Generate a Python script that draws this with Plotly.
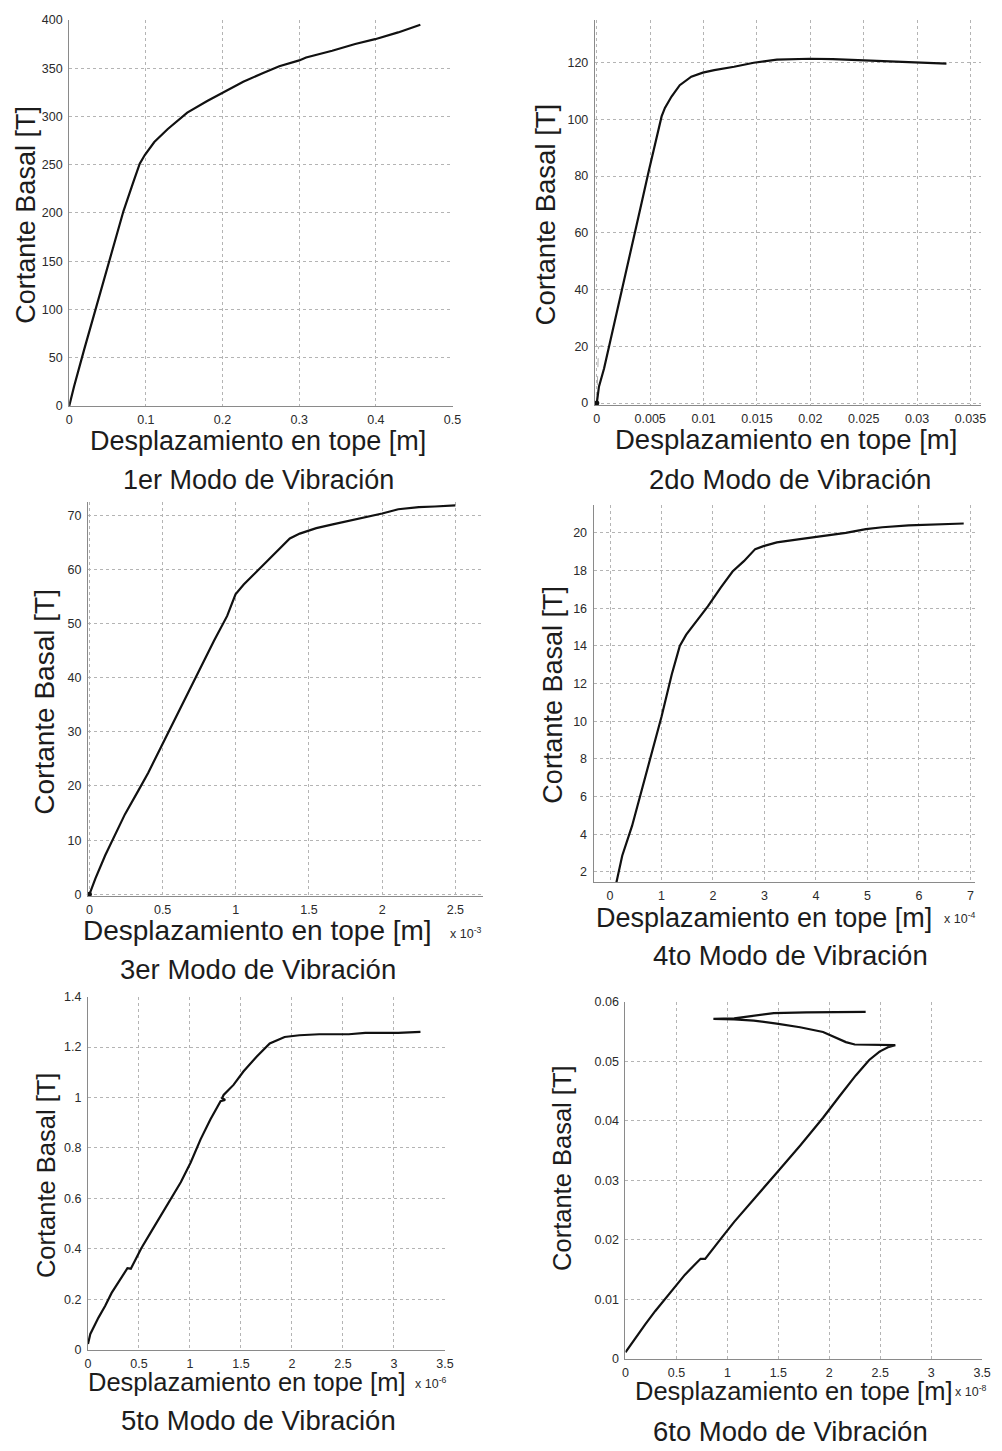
import plotly.graph_objects as go

W, H = 1002, 1451
FONT = "Liberation Sans, Arial, Helvetica, sans-serif"
TXT = "#1c1c1c"

# ---- 1er modo ----
m1_x = [0, 0.0064, 0.0193, 0.034, 0.043, 0.0557, 0.0708, 0.0836, 0.092, 0.0986, 0.111, 0.1286,
        0.154, 0.18, 0.1995, 0.227, 0.253, 0.274, 0.300, 0.309, 0.343, 0.373, 0.399, 0.429, 0.458]
m1_y = [0, 20.5, 58, 99, 123, 161, 202, 232, 251, 260, 273.5, 287,
        304, 316, 324, 336, 345, 352, 358, 361, 368, 375, 380, 387, 395]
m1_xticks = [0, 0.1, 0.2, 0.3, 0.4, 0.5]
m1_xtext = ["0", "0.1", "0.2", "0.3", "0.4", "0.5"]
m1_yticks = [0, 50, 100, 150, 200, 250, 300, 350, 400]
m1_ytext = ["0", "50", "100", "150", "200", "250", "300", "350", "400"]

# ---- 2do modo ----
m2_x = [0, 0.0002, 0.00068, 0.00114, 0.0016, 0.00207, 0.00237, 0.003, 0.0036, 0.00422, 0.00484,
        0.00546, 0.00607, 0.00638, 0.007, 0.00777, 0.00885, 0.00993, 0.011, 0.01286, 0.0147,
        0.01687, 0.01995, 0.0221, 0.02458, 0.02766, 0.0301, 0.03275]
m2_y = [0, 5.8, 12.2, 19.7, 27.9, 34.9, 40.7, 50, 60.4, 70.9, 81.3,
        91.8, 101, 104, 108, 112, 115, 116.4, 117.3, 118.5, 119.9,
        121, 121.3, 121.2, 120.8, 120.2, 119.9, 119.6]
m2_aux_x = [0, 0.00016, 0.00053]
m2_aux_y = [0, 19.8, 20.3]
m2_xticks = [0, 0.005, 0.01, 0.015, 0.02, 0.025, 0.03, 0.035]
m2_xtext = ["0", "0.005", "0.01", "0.015", "0.02", "0.025", "0.03", "0.035"]
m2_yticks = [0, 20, 40, 60, 80, 100, 120]
m2_ytext = ["0", "20", "40", "60", "80", "100", "120"]

# ---- 3er modo (desplazamiento x 1e-3) ----
m3_x = [0, 0.0405, 0.108, 0.176, 0.243, 0.333, 0.401, 0.491, 0.581, 0.671, 0.761, 0.851, 0.941,
        0.998, 1.054, 1.122, 1.212, 1.302, 1.369, 1.437, 1.55, 1.662, 1.797, 1.887, 2.0, 2.11,
        2.25, 2.36, 2.5]
m3_y = [0, 2.9, 7.2, 10.9, 14.8, 19.1, 22.4, 27.3, 32.2, 37.1, 42, 46.8, 51.4,
        55.4, 57.2, 59, 61.5, 63.9, 65.7, 66.6, 67.6, 68.3, 69.1, 69.7, 70.3, 71.1,
        71.5, 71.6, 71.8]
m3_xticks = [0, 0.5, 1, 1.5, 2, 2.5]
m3_xtext = ["0", "0.5", "1", "1.5", "2", "2.5"]
m3_yticks = [0, 10, 20, 30, 40, 50, 60, 70]
m3_ytext = ["0", "10", "20", "30", "40", "50", "60", "70"]

# ---- 4to modo (desplazamiento x 1e-4) ----
m4_x = [0.105, 0.237, 0.428, 0.62, 0.81, 1.0, 1.2, 1.355, 1.48, 1.71, 1.9, 2.15, 2.38, 2.6,
        2.82, 2.98, 3.24, 3.69, 4.07, 4.58, 4.97, 5.29, 5.8, 6.31, 6.87]
m4_y = [1.2, 2.86, 4.44, 6.38, 8.3, 10.24, 12.5, 14.0, 14.6, 15.4, 16.1, 17.1, 17.95, 18.5,
        19.14, 19.3, 19.5, 19.67, 19.8, 20.0, 20.2, 20.3, 20.4, 20.46, 20.5]
m4_xticks = [0, 1, 2, 3, 4, 5, 6, 7]
m4_xtext = ["0", "1", "2", "3", "4", "5", "6", "7"]
m4_yticks = [2, 4, 6, 8, 10, 12, 14, 16, 18, 20]
m4_ytext = ["2", "4", "6", "8", "10", "12", "14", "16", "18", "20"]

# ---- 5to modo (desplazamiento x 1e-6) ----
m5_x = [0, 0.023, 0.103, 0.168, 0.232, 0.313, 0.387, 0.42, 0.459, 0.523, 0.62, 0.717, 0.814,
        0.91, 1.007, 1.104, 1.2, 1.30, 1.345, 1.315, 1.33, 1.427, 1.524, 1.653, 1.782, 1.847,
        1.928, 2.073, 2.267, 2.557, 2.719, 3.042, 3.26]
m5_y = [0.022, 0.062, 0.127, 0.173, 0.225, 0.278, 0.323, 0.321, 0.35, 0.402, 0.468, 0.533, 0.598,
        0.664, 0.742, 0.834, 0.913, 0.985, 0.99, 0.998, 1.01, 1.05, 1.103, 1.162, 1.214, 1.227,
        1.24, 1.247, 1.251, 1.251, 1.256, 1.256, 1.26]
m5_xticks = [0, 0.5, 1, 1.5, 2, 2.5, 3, 3.5]
m5_xtext = ["0", "0.5", "1", "1.5", "2", "2.5", "3", "3.5"]
m5_yticks = [0, 0.2, 0.4, 0.6, 0.8, 1.0, 1.2, 1.4]
m5_ytext = ["0", "0.2", "0.4", "0.6", "0.8", "1", "1.2", "1.4"]

# ---- 6to modo (desplazamiento x 1e-8) ----
m6_x = [0, 0.032, 0.097, 0.194, 0.291, 0.388, 0.485, 0.582, 0.679, 0.737, 0.782, 0.84, 0.937,
        1.067, 1.26, 1.487, 1.713, 1.939, 2.1, 2.26, 2.392, 2.493, 2.586, 2.648, 2.25, 2.163,
        1.939, 1.713, 1.484, 1.26, 1.067, 0.863, 1.067, 1.455, 1.775, 2.357]
m6_y = [0.0011, 0.0019, 0.0036, 0.0058, 0.008, 0.01, 0.0122, 0.0141, 0.0158, 0.0168, 0.0168, 0.018,
        0.0202, 0.023, 0.0269, 0.0313, 0.0358, 0.0405, 0.0441, 0.0476, 0.0502, 0.0516, 0.0524,
        0.0527, 0.0528, 0.0532, 0.0549, 0.0557, 0.0563, 0.0568, 0.057, 0.0571, 0.0572, 0.05805,
        0.0582, 0.05827]
m6_xticks = [0, 0.5, 1, 1.5, 2, 2.5, 3, 3.5]
m6_xtext = ["0", "0.5", "1", "1.5", "2", "2.5", "3", "3.5"]
m6_yticks = [0, 0.01, 0.02, 0.03, 0.04, 0.05, 0.06]
m6_ytext = ["0", "0.01", "0.02", "0.03", "0.04", "0.05", "0.06"]

modos = ["1er Modo de Vibración", "2do Modo de Vibración", "3er Modo de Vibración",
         "4to Modo de Vibración", "5to Modo de Vibración", "6to Modo de Vibración"]
xlabel = "Desplazamiento en tope [m]"
ylabel = "Cortante Basal [T]"

# plot-area boxes in pixels (left, right, top, bottom), axis ranges and label anchors
panels = [
    dict(x=m1_x, y=m1_y, xt=(m1_xticks, m1_xtext), yt=(m1_yticks, m1_ytext),
         box=(67, 455, 13, 403), xr=[0, 0.5], yr=[0, 400],
         ytitle=(23, 210, 27), xtitle=(258, 438, 27), sub=(259, 478, 27), exp=None),
    dict(x=m2_x, y=m2_y, xt=(m2_xticks, m2_xtext), yt=(m2_yticks, m2_ytext),
         box=(599, 990, 13, 401.7), xr=[-0.000185, 0.036], yr=[-0.6, 135],
         ytitle=(550, 209, 27.5), xtitle=(792, 437, 27.5), sub=(797, 477, 27.5), exp=None),
    dict(x=m3_x, y=m3_y, xt=(m3_xticks, m3_xtext), yt=(m3_yticks, m3_ytext),
         box=(86, 486, 500, 897.3), xr=[-0.01, 2.69], yr=[-0.25, 72.4],
         ytitle=(42, 701, 28), xtitle=(258, 933, 28), sub=(258, 972, 27.5),
         exp=(450, 935, "-3")),
    dict(x=m4_x, y=m4_y, xt=(m4_xticks, m4_xtext), yt=(m4_yticks, m4_ytext),
         box=(597.7, 983.3, 502.7, 884), xr=[-0.32, 7.08], yr=[1.44, 21.49],
         ytitle=(557, 694, 27), xtitle=(770, 920, 27), sub=(797, 958, 27.5),
         exp=(950, 920, "-4")),
    dict(x=m5_x, y=m5_y, xt=(m5_xticks, m5_xtext), yt=(m5_yticks, m5_ytext),
         box=(86, 447.3, 999.3, 1355.7), xr=[0, 3.5], yr=[0, 1.4],
         ytitle=(43, 1179, 25.5), xtitle=(247, 1388, 25.5), sub=(259, 1427, 27.5),
         exp=(415, 1389, "-6")),
    dict(x=m6_x, y=m6_y, xt=(m6_xticks, m6_xtext), yt=(m6_yticks, m6_ytext),
         box=(630, 991, 1004.3, 1365), xr=[0, 3.5], yr=[0, 0.06],
         ytitle=(565, 1172, 25.5), xtitle=(801, 1397, 25.5), sub=(797, 1438, 27.5),
         exp=(962, 1397, "-8")),
]


def px(v):
    return v / W


def py(v):
    return 1 - v / H


fig = go.Figure()
annotations = []
layout = {}

for i, p in enumerate(panels, start=1):
    sx = "" if i == 1 else str(i)
    l, r, t, b = p["box"]
    axis_common = dict(
        showline=True, linecolor="#8a8a8a", linewidth=1,
        showgrid=True, gridcolor="#b4b4b4", griddash="dot", gridwidth=1,
        zeroline=False, ticks="", mirror=False,
        tickfont=dict(family=FONT, size=12.5, color="#2a2a2a"),
        tickmode="array", fixedrange=True,
    )
    layout["xaxis" + sx] = dict(
        axis_common, domain=[px(l), px(r)], range=p["xr"], anchor="y" + sx,
        tickvals=p["xt"][0], ticktext=p["xt"][1], ticklabelstandoff=2,
    )
    layout["yaxis" + sx] = dict(
        axis_common, domain=[py(b), py(t)], range=p["yr"], anchor="x" + sx,
        tickvals=p["yt"][0], ticktext=p["yt"][1], ticklabelstandoff=3,
    )

    if i == 2:
        # faint dashed reference near the origin
        fig.add_trace(go.Scatter(
            x=m2_aux_x, y=m2_aux_y, mode="lines", xaxis="x2", yaxis="y2",
            line=dict(color="#b0b0b0", width=1, dash="dash"), showlegend=False,
            hoverinfo="skip"))

    fig.add_trace(go.Scatter(
        x=p["x"], y=p["y"], mode="lines", xaxis="x" + sx, yaxis="y" + sx,
        line=dict(color="#111111", width=2.2), showlegend=False))

    if i in (2, 3):
        fig.add_trace(go.Scatter(
            x=[p["x"][0]], y=[p["y"][0]], mode="markers", xaxis="x" + sx, yaxis="y" + sx,
            marker=dict(color="#111111", size=5), showlegend=False, cliponaxis=False))

    yx, yy, yfs = p["ytitle"]
    annotations.append(dict(
        text=ylabel, x=px(yx), y=py(yy), xref="paper", yref="paper",
        xanchor="center", yanchor="middle", textangle=-90, showarrow=False,
        font=dict(family=FONT, size=yfs, color=TXT)))
    xx, xy, xfs = p["xtitle"]
    annotations.append(dict(
        text=xlabel, x=px(xx), y=py(xy), xref="paper", yref="paper",
        xanchor="center", yanchor="middle", showarrow=False,
        font=dict(family=FONT, size=xfs, color=TXT)))
    sxp, syp, sfs = p["sub"]
    annotations.append(dict(
        text=modos[i - 1], x=px(sxp), y=py(syp), xref="paper", yref="paper",
        xanchor="center", yanchor="middle", showarrow=False,
        font=dict(family=FONT, size=sfs, color=TXT)))
    if p["exp"]:
        ex, ey, e = p["exp"]
        annotations.append(dict(
            text="x 10<sup>" + e + "</sup>", x=px(ex), y=py(ey), xref="paper", yref="paper",
            xanchor="left", yanchor="middle", showarrow=False,
            font=dict(family=FONT, size=12.5, color="#2a2a2a")))

fig.update_layout(
    width=W, height=H,
    margin=dict(l=0, r=0, t=0, b=0),
    paper_bgcolor="white", plot_bgcolor="white",
    annotations=annotations,
    **layout,
)

fig.write_html("out.html")
